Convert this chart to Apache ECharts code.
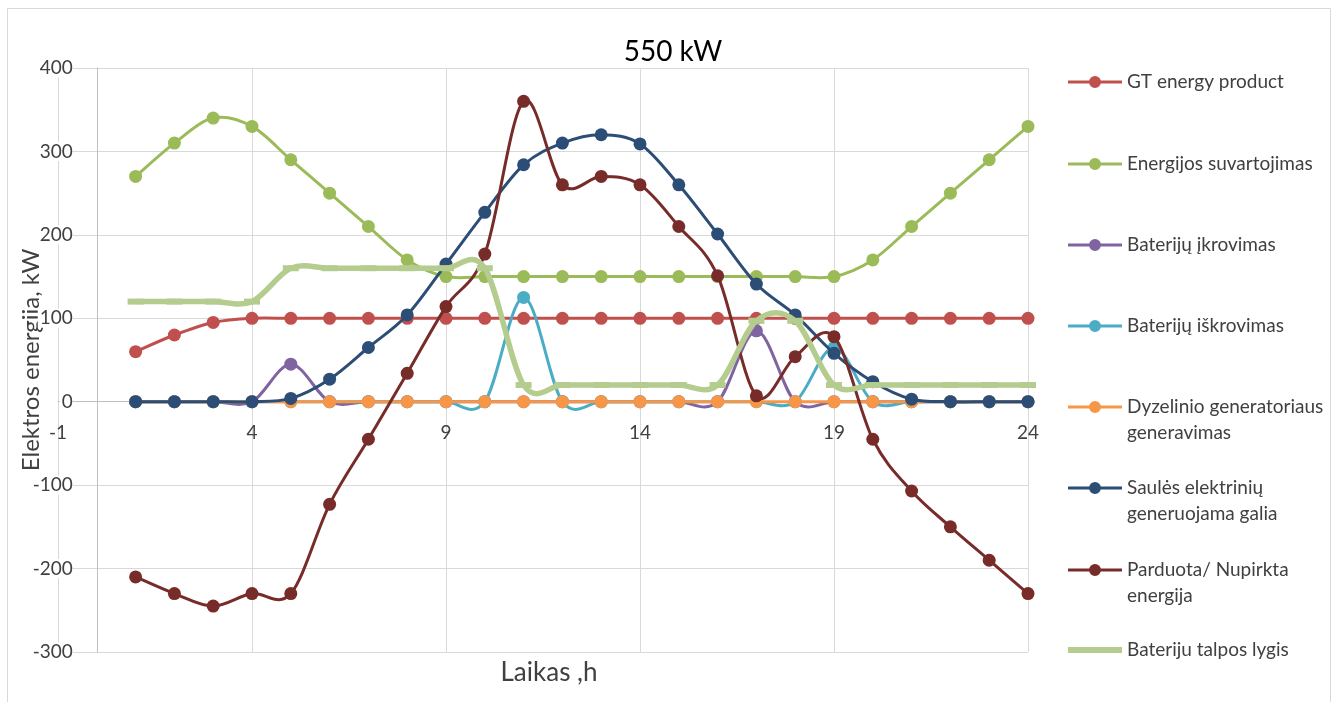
<!DOCTYPE html>
<html>
<head>
<meta charset="utf-8">
<script src="https://cdn.jsdelivr.net/npm/echarts@6/dist/echarts.min.js"></script>
<style>
  html, body { margin: 0; padding: 0; background: #fff; }
  #chart { width: 1343px; height: 702px; }
</style>
</head>
<body>
<div id="chart"></div>
<script>
// Hour of the day
const hours = [1, 2, 3, 4, 5, 6, 7, 8, 9, 10, 11, 12, 13, 14, 15, 16, 17, 18, 19, 20, 21, 22, 23, 24];

// Energy flows, kW
const gtEnergy      = [60, 80, 95, 100, 100, 100, 100, 100, 100, 100, 100, 100, 100, 100, 100, 100, 100, 100, 100, 100, 100, 100, 100, 100];
const consumption   = [270, 310, 340, 330, 290, 250, 210, 170, 150, 150, 150, 150, 150, 150, 150, 150, 150, 150, 150, 170, 210, 250, 290, 330];
const batteryCharge = [0, 0, 0, 0, 45, 0, 0, 0, 0, 0, 0, 0, 0, 0, 0, 0, 85, 0, 0, 0, 0, 0, 0, 0];
const batteryDisch  = [0, 0, 0, 0, 0, 0, 0, 0, 0, 0, 125, 0, 0, 0, 0, 0, 0, 0, 65, 0, 0, 0, 0, 0];
const dieselGen     = [0, 0, 0, 0, 0, 0, 0, 0, 0, 0, 0, 0, 0, 0, 0, 0, 0, 0, 0, 0, 0, 0, 0, 0];
const solarPower    = [0, 0, 0, 0, 4, 27, 65, 104, 165, 227, 284, 310, 320, 309, 260, 201, 141, 104, 58, 24, 3, 0, 0, 0];
const gridTrade     = [-210, -230, -245, -230, -230, -123, -45, 34, 114, 177, 360, 260, 270, 260, 210, 151, 7, 54, 78, -45, -107, -150, -190, -230];
const batteryLevel  = [120, 120, 120, 120, 160, 160, 160, 160, 160, 160, 20, 20, 20, 20, 20, 20, 97, 97, 20, 20, 20, 20, 20, 20];

// Axis ticks
const xTicks = { min: -1, max: 24, step: 5 };
const yTicks = { min: -300, max: 400, step: 100 };

const seriesNames = [
  'GT energy product',
  'Energijos suvartojimas',
  'Baterijų įkrovimas',
  'Baterijų iškrovimas',
  'Dyzelinio generatoriaus\ngeneravimas',
  'Saulės elektrinių\ngeneruojama galia',
  'Parduota/ Nupirkta\nenergija',
  'Bateriju talpos lygis'
];
const seriesValues = [gtEnergy, consumption, batteryCharge, batteryDisch, dieselGen, solarPower, gridTrade, batteryLevel];
const seriesColors = ['#C0504D', '#9BBB59', '#8064A2', '#4BACC6', '#F79646', '#2C4D75', '#772C2A', '#B4CC8E'];

const FONT = 'Lato, "Open Sans", sans-serif';

// Plot area in pixels
const GRID = { left: 58, right: 1028, top: 68, bottom: 652 };
const plotW = GRID.right - GRID.left;
const plotH = GRID.bottom - GRID.top;
// Axes cross at zero: shift them from the plot edges onto the zero lines
const xAxisShift = -plotH * (0 - yTicks.min) / (yTicks.max - yTicks.min);
const yAxisShift = -plotW * (0 - xTicks.min) / (xTicks.max - xTicks.min);

// Legend glyph: short line with a round marker in the middle
const LINE_MARKER_ICON = 'path://M0,4.5H54V7.5H0Z M33,6A6,6,0,1,1,21,6A6,6,0,1,1,33,6Z';

function pairs(values) {
  return hours.map((h, i) => [h, values[i]]);
}

// Smoothed line: cubic Bezier per segment with Catmull-Rom tangents (1/6 of the chord
// between the neighbouring points), plus a marker at every point.
function smoothSeries(name, values, color, index) {
  const isLevel = index === 7;
  const lineWidth = isLevel ? 5.5 : 3;
  return {
    name: name,
    type: 'custom',
    coordinateSystem: 'cartesian2d',
    data: pairs(values),
    encode: { x: 0, y: 1 },
    itemStyle: { color: color },
    z: 2 + index,
    silent: true,
    animation: false,
    clip: false,
    renderItem: function (params, api) {
      const n = values.length;
      const i = params.dataIndex;
      const pt = (j) => api.coord([hours[j], values[j]]);
      const p1 = pt(i);
      const children = [];
      if (i < n - 1) {
        const p0 = pt(Math.max(i - 1, 0));
        const p2 = pt(i + 1);
        const p3 = pt(Math.min(i + 2, n - 1));
        children.push({
          type: 'bezierCurve',
          shape: {
            x1: p1[0], y1: p1[1],
            x2: p2[0], y2: p2[1],
            cpx1: p1[0] + (p2[0] - p0[0]) / 6, cpy1: p1[1] + (p2[1] - p0[1]) / 6,
            cpx2: p2[0] - (p3[0] - p1[0]) / 6, cpy2: p2[1] - (p3[1] - p1[1]) / 6
          },
          style: { stroke: color, lineWidth: lineWidth, fill: 'none', lineCap: 'round' }
        });
      }
      if (isLevel) {
        children.push({
          type: 'rect',
          shape: { x: p1[0] - 8, y: p1[1] - 3, width: 16, height: 6 },
          style: { fill: color }
        });
      } else {
        children.push({
          type: 'circle',
          shape: { cx: p1[0], cy: p1[1], r: 6.5 },
          style: { fill: color }
        });
      }
      return { type: 'group', children: children };
    }
  };
}

const series = seriesNames.map((name, i) => smoothSeries(name, seriesValues[i], seriesColors[i], i));

// Legend rows: centre y of the first text line of each entry
const legendRows = [82, 164, 245, 326, 407, 488, 570, 650];
const legends = seriesNames.map((name, i) => {
  const twoLines = name.indexOf('\n') >= 0;
  const isLevel = i === 7;
  return {
    show: true,
    orient: 'vertical',
    left: 1063,
    top: twoLines ? legendRows[i] - 44 : legendRows[i] - 18,
    itemWidth: 54,
    itemHeight: isLevel ? 6 : 12,
    itemGap: 0,
    selectedMode: false,
    icon: isLevel ? 'rect' : LINE_MARKER_ICON,
    data: [name],
    formatter: twoLines ? (n) => ' \n' + n : (n) => n,
    textStyle: {
      fontFamily: FONT,
      fontSize: 19,
      color: '#404040',
      lineHeight: 26
    }
  };
});

const chart = echarts.init(document.getElementById('chart'), null, { renderer: 'canvas' });
chart.setOption({
  backgroundColor: '#fff',
  animation: false,
  title: {
    text: '550 kW',
    left: 668,
    top: 33,
    textAlign: 'center',
    textStyle: { fontFamily: FONT, fontSize: 28, fontWeight: 'normal', color: '#000' }
  },
  graphic: [{
    type: 'rect',
    shape: { x: 7.5, y: 8.5, width: 1323, height: 720 },
    style: { fill: 'none', stroke: '#D9D9D9', lineWidth: 1 },
    silent: true,
    z: -10
  }],
  legend: legends,
  grid: {
    left: GRID.left, top: GRID.top,
    width: plotW, height: plotH,
    containLabel: false,
    outerBoundsMode: 'none'
  },
  xAxis: {
    type: 'value',
    min: xTicks.min,
    max: xTicks.max,
    interval: xTicks.step,
    offset: xAxisShift,
    name: 'Laikas ,h',
    nameLocation: 'middle',
    nameGap: 258,
    nameMoveOverlap: false,
    nameTextStyle: { fontFamily: FONT, fontSize: 26, color: '#404040', padding: [0, 0, 0, 12] },
    axisLine: { show: true, onZero: false, lineStyle: { color: '#BFBFBF', width: 1 } },
    axisTick: { show: false },
    axisLabel: { fontFamily: FONT, fontSize: 19, color: '#404040', margin: 22 },
    splitLine: { show: true, lineStyle: { color: '#D9D9D9', width: 1 } }
  },
  yAxis: {
    type: 'value',
    min: yTicks.min,
    max: yTicks.max,
    interval: yTicks.step,
    offset: yAxisShift,
    name: 'Elektros energija, kW',
    nameLocation: 'middle',
    nameRotate: 90,
    nameGap: 54,
    nameMoveOverlap: false,
    nameTextStyle: { fontFamily: FONT, fontSize: 24, color: '#404040' },
    axisLine: { show: true, onZero: false, lineStyle: { color: '#BFBFBF', width: 1 } },
    axisTick: { show: false },
    axisLabel: {
      fontFamily: FONT, fontSize: 19, color: '#404040', margin: 24,
      backgroundColor: '#fff', padding: [0, 0, 0, 2]
    },
    splitLine: { show: true, lineStyle: { color: '#D9D9D9', width: 1 } }
  },
  series: series
});
</script>
</body>
</html>
